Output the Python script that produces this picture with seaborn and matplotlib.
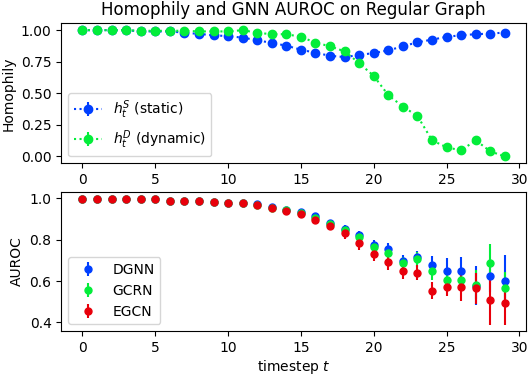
import numpy as np
import matplotlib
matplotlib.use("Agg")
import matplotlib.pyplot as plt
import seaborn as sns

# timesteps
t = list(range(30))

# homophily
h_static = [1.0, 1.0, 1.0, 1.0, 0.99, 0.99, 0.99, 0.98, 0.97, 0.96,
            0.952, 0.941, 0.92, 0.899, 0.877, 0.845, 0.821, 0.797, 0.787, 0.803,
            0.819, 0.84, 0.872, 0.904, 0.925, 0.947, 0.96, 0.968, 0.973, 0.981]
h_dynamic = [1.0, 1.0, 1.0, 1.0, 0.995, 0.995, 0.995, 0.995, 0.99, 0.99,
             0.99, 1.0, 0.979, 0.968, 0.968, 0.947, 0.901, 0.872, 0.832, 0.739,
             0.637, 0.485, 0.395, 0.32, 0.128, 0.072, 0.048, 0.128, 0.04, 0.0]

# AUROC means and std (bottom panel)
dgnn = [0.998, 0.998, 0.994, 0.994, 0.994, 0.994, 0.989, 0.989, 0.989, 0.982,
        0.979, 0.975, 0.973, 0.959, 0.944, 0.935, 0.912, 0.882, 0.852, 0.820,
        0.776, 0.755, 0.698, 0.714, 0.679, 0.650, 0.647, 0.578, 0.626, 0.602]
dgnn_err = [0.003, 0.003, 0.003, 0.003, 0.003, 0.003, 0.003, 0.003, 0.003, 0.004,
            0.004, 0.005, 0.006, 0.007, 0.008, 0.01, 0.012, 0.015, 0.02, 0.02,
            0.02, 0.03, 0.03, 0.033, 0.043, 0.062, 0.07, 0.094, 0.08, 0.124]
gcrn = [0.997, 0.998, 0.994, 0.994, 0.994, 0.994, 0.989, 0.989, 0.989, 0.982,
        0.979, 0.975, 0.969, 0.955, 0.941, 0.928, 0.906, 0.877, 0.846, 0.811,
        0.763, 0.737, 0.685, 0.704, 0.647, 0.607, 0.604, 0.582, 0.688, 0.564]
gcrn_err = [0.003, 0.003, 0.003, 0.003, 0.003, 0.003, 0.003, 0.003, 0.003, 0.004,
            0.004, 0.005, 0.006, 0.007, 0.008, 0.01, 0.012, 0.015, 0.02, 0.022,
            0.025, 0.03, 0.03, 0.035, 0.04, 0.04, 0.045, 0.07, 0.09, 0.08]
egcn = [0.998, 0.998, 0.994, 0.994, 0.994, 0.994, 0.989, 0.989, 0.989, 0.982,
        0.979, 0.975, 0.966, 0.952, 0.938, 0.922, 0.895, 0.866, 0.831, 0.784,
        0.731, 0.690, 0.647, 0.640, 0.554, 0.569, 0.569, 0.564, 0.507, 0.492]
egcn_err = [0.003, 0.003, 0.003, 0.003, 0.003, 0.003, 0.003, 0.003, 0.003, 0.004,
            0.004, 0.005, 0.006, 0.007, 0.008, 0.01, 0.012, 0.015, 0.029, 0.033,
            0.032, 0.035, 0.037, 0.037, 0.043, 0.041, 0.064, 0.075, 0.118, 0.103]

# old-style seaborn "bright" colours
sns.set_palette(["#003fff", "#03ed3a", "#e8000b"])
blue, green, red = sns.color_palette()[:3]

fig = plt.figure(figsize=(5.31, 3.75), dpi=100)
ax1 = fig.add_axes([0.1154, 0.5645, 0.8752, 0.3734])
ax2 = fig.add_axes([0.1154, 0.1173, 0.8752, 0.3715])

# ── top: homophily ──────────────────────────────
ax1.errorbar(t, h_static, yerr=0.004, fmt='o:', color=blue, label=r'$h_t^S$ (static)')
ax1.errorbar(t, h_dynamic, yerr=0.004, fmt='o:', color=green, label=r'$h_t^D$ (dynamic)')
ax1.set_ylabel('Homophily')
ax1.set_title('Homophily and GNN AUROC on Regular Graph')
ax1.set_xticks(range(0, 31, 5))
ax1.set_yticks([0, 0.25, 0.5, 0.75, 1.0])
ax1.legend(loc='lower left')

# ── bottom: AUROC ───────────────────────────────
ax2.errorbar(t, dgnn, yerr=dgnn_err, fmt='o', ms=5, color=blue, label='DGNN')
ax2.errorbar(t, gcrn, yerr=gcrn_err, fmt='o', ms=5, color=green, label='GCRN')
ax2.errorbar(t, egcn, yerr=egcn_err, fmt='o', ms=5, color=red, label='EGCN')
ax2.set_ylabel('AUROC')
ax2.set_xlabel('timestep $t$', labelpad=2)
ax2.set_xticks(range(0, 31, 5))
ax2.set_yticks([0.4, 0.6, 0.8, 1.0])
ax2.legend(loc='lower left')

fig.savefig('out.png', dpi=100)
